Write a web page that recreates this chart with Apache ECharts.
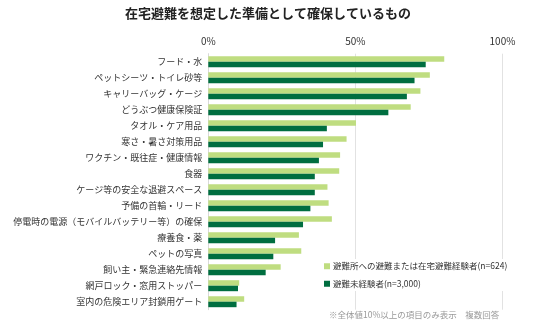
<!DOCTYPE html>
<html><head><meta charset="utf-8">
<script src="https://cdn.jsdelivr.net/npm/echarts@6/dist/echarts.min.js"></script>
<style>html,body{margin:0;padding:0;background:#fff}#c{width:536px;height:327px}</style>
</head><body><div id="c"></div>
<script>
const categories = ['フード・水','ペットシーツ・トイレ砂等','キャリーバッグ・ケージ','どうぶつ健康保険証','タオル・ケア用品','寒さ・暑さ対策用品','ワクチン・既往症・健康情報','食器','ケージ等の安全な退避スペース','予備の首輪・リード','停電時の電源（モバイルバッテリー等）の確保','療養食・薬','ペットの写真','飼い主・緊急連絡先情報','網戸ロック・窓用ストッパー','室内の危険エリア封鎖用ゲート'];
const experienced = [80.2,75.3,72.1,68.8,50.2,47.0,44.8,44.5,40.5,40.9,42.0,30.8,31.6,24.6,10.5,12.2];
const inexperienced = [73.9,70.1,67.5,61.2,40.3,39.0,37.6,36.2,36.2,34.7,32.2,22.7,22.1,19.5,10.1,9.6];
const seriesNames = ['避難所への避難または在宅避難経験者(n=624)','避難未経験者(n=3,000)'];
const xTicks = [0,50,100];

const FONT = '"Noto Sans CJK JP", "Noto Sans", sans-serif';
const chart = echarts.init(document.getElementById('c'));
chart.setOption({
  animation:false,
  textStyle:{fontFamily:FONT},
  title:{text:'在宅避難を想定した準備として確保しているもの',left:'center',top:2,
    textStyle:{fontSize:13,fontWeight:'bold',color:'#222',fontFamily:FONT}},
  grid:{left:208.3,right:33.5,top:53.7,height:256,containLabel:false,outerBoundsMode:'none'},
  xAxis:{type:'value',position:'top',min:xTicks[0],max:xTicks[2],interval:50,
    axisLabel:{formatter:'{value}%',fontSize:10,color:'#333',margin:7},
    splitLine:{lineStyle:{color:'#e2e2e2'}},axisLine:{show:false},axisTick:{show:false}},
  yAxis:{type:'category',data:categories,inverse:true,
    axisLabel:{fontSize:9,color:'#333',margin:6},
    axisLine:{lineStyle:{color:'#d9d9d9'}},axisTick:{show:false}},
  legend:{orient:'vertical',left:321,top:259,itemWidth:6,itemHeight:6,itemGap:9,icon:'rect',
    backgroundColor:'#fff',padding:[3,4,3,3],
    textStyle:{fontSize:8.5,color:'#333',fontFamily:FONT,padding:[0,0,0,-2]},
    data:seriesNames},
  graphic:[{type:'text',left:329,top:311,style:{text:'※全体値10%以上の項目のみ表示　複数回答',fontSize:8.5,fill:'#999',fontFamily:FONT}}],
  series:[
    {name:seriesNames[0],type:'bar',data:experienced,barWidth:5.5,barGap:'0%',itemStyle:{color:'#bfdd80'}},
    {name:seriesNames[1],type:'bar',data:inexperienced,barWidth:5.5,itemStyle:{color:'#006e40'}}
  ]
});
</script></body></html>
